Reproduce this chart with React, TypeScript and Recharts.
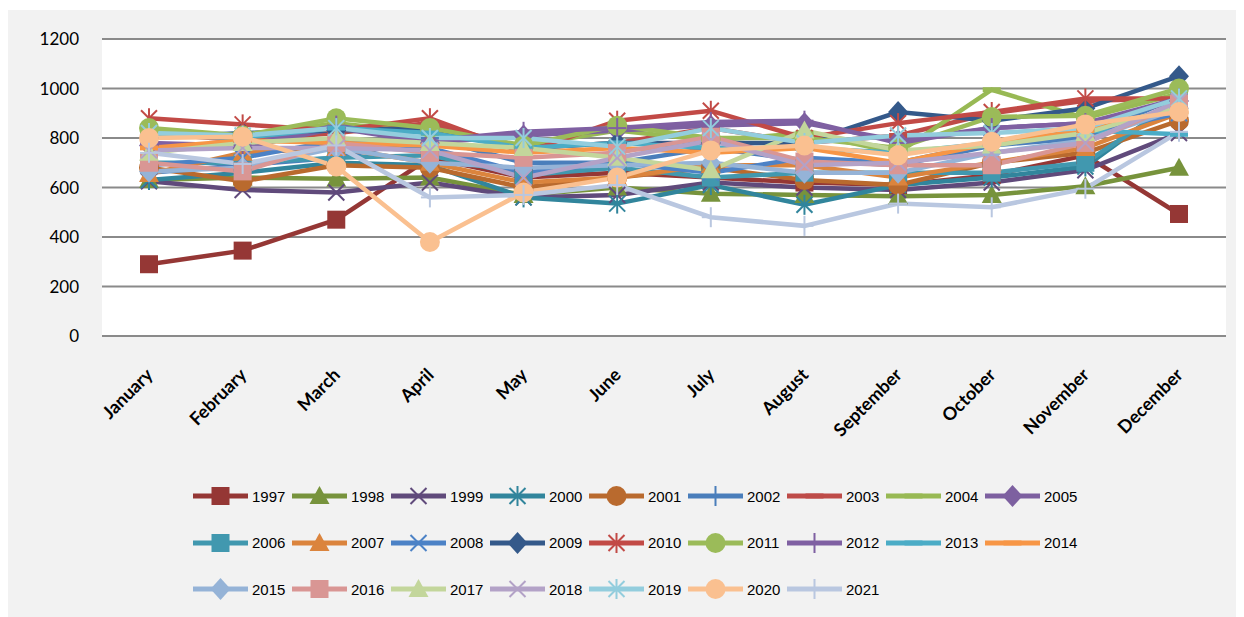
import React from 'react';
import { LineChart, Line, XAxis, YAxis, CartesianGrid } from 'recharts';

const months = ['January', 'February', 'March', 'April', 'May', 'June', 'July', 'August', 'September', 'October', 'November', 'December'];
const yTicks = [0, 200, 400, 600, 800, 1000, 1200];

// one array per year, Jan..Dec
const y1997 = [290, 345, 470, 720, 640, 660, 640, 620, 610, 650, 730, 493];
const y1998 = [630, 640, 635, 640, 570, 600, 575, 570, 565, 570, 605, 680];
const y1999 = [625, 590, 580, 620, 560, 570, 620, 600, 590, 620, 670, 820];
const y2000 = [630, 660, 700, 690, 560, 535, 610, 530, 610, 640, 685, 960];
const y2001 = [680, 625, 690, 680, 600, 640, 680, 630, 610, 700, 740, 870];
const y2002 = [660, 690, 720, 800, 700, 700, 760, 710, 690, 770, 800, 970];
const y2003 = [820, 790, 820, 860, 760, 780, 840, 780, 810, 900, 950, 960];
const y2004 = [830, 810, 860, 820, 770, 830, 790, 820, 740, 995, 880, 980];
const y2005 = [770, 760, 840, 780, 810, 830, 850, 860, 790, 840, 860, 950];
const y2006 = [700, 700, 720, 730, 650, 680, 640, 660, 660, 660, 700, 950];
const y2007 = [655, 740, 760, 700, 620, 640, 690, 690, 640, 700, 760, 900];
const y2008 = [690, 720, 790, 760, 660, 700, 660, 720, 700, 780, 820, 900];
const y2009 = [800, 820, 830, 840, 760, 780, 780, 780, 905, 870, 920, 1050];
const y2010 = [880, 855, 830, 880, 740, 870, 910, 800, 860, 905, 960, 960];
const y2011 = [840, 810, 880, 840, 770, 850, 800, 800, 760, 885, 890, 1000];
const y2012 = [780, 770, 850, 790, 825, 840, 865, 870, 780, 840, 860, 960];
const y2013 = [810, 800, 840, 820, 760, 780, 760, 760, 740, 780, 830, 815];
const y2014 = [760, 790, 780, 770, 740, 760, 740, 760, 700, 780, 830, 920];
const y2015 = [665, 680, 760, 700, 680, 690, 700, 660, 660, 740, 790, 920];
const y2016 = [700, 665, 780, 740, 720, 740, 805, 705, 690, 690, 780, 940];
const y2017 = [740, 780, 800, 780, 760, 720, 670, 830, 750, 770, 820, 930];
const y2018 = [750, 760, 760, 750, 640, 720, 790, 690, 700, 740, 780, 950];
const y2019 = [820, 810, 840, 800, 800, 765, 840, 780, 810, 820, 840, 960];
const y2020 = [800, 805, 685, 380, 580, 640, 750, 770, 730, 785, 855, 905];
const y2021 = [740, 695, 770, 560, 570, 610, 480, 445, 535, 520, 595, 825];

const years = ['1997', '1998', '1999', '2000', '2001', '2002', '2003', '2004', '2005', '2006', '2007', '2008', '2009',
  '2010', '2011', '2012', '2013', '2014', '2015', '2016', '2017', '2018', '2019', '2020', '2021'];
const yearValues = [y1997, y1998, y1999, y2000, y2001, y2002, y2003, y2004, y2005, y2006, y2007, y2008, y2009,
  y2010, y2011, y2012, y2013, y2014, y2015, y2016, y2017, y2018, y2019, y2020, y2021];
const colors = ['#953735', '#77933C', '#604A7B', '#31859C', '#B96A2E', '#4A7EBB', '#BE4B48', '#98B954', '#7D60A0',
  '#4198AF', '#DB843D', '#4C82C6', '#34598A', '#C24A46', '#9BBB59', '#7F60A2', '#4BACC6', '#F79646',
  '#95B3D7', '#D99694', '#C3D69B', '#B3A2C7', '#93CDDD', '#FAC090', '#B9C7E0'];
const markers = ['square', 'triangle', 'x', 'star', 'circle', 'plus', 'dash', 'dash', 'diamond',
  'square', 'triangle', 'x', 'diamond', 'star', 'circle', 'plus', 'dash', 'dash',
  'diamond', 'square', 'triangle', 'x', 'star', 'circle', 'plus'];

const data = months.map((m, i) => {
  const row: Record<string, string | number> = { month: m };
  years.forEach((y, j) => { row[y] = yearValues[j][i]; });
  return row;
});

const Marker = ({ shape, cx, cy, color }: { shape: string; cx: number; cy: number; color: string }) => {
  const h = 9;
  switch (shape) {
    case 'square':
      return <rect x={cx - h} y={cy - h} width={h * 2} height={h * 2} fill={color} />;
    case 'triangle':
      return <polygon points={`${cx},${cy - 10} ${cx + 10},${cy + 8} ${cx - 10},${cy + 8}`} fill={color} />;
    case 'x':
      return (
        <g stroke={color} strokeWidth={2}>
          <line x1={cx - 8} y1={cy - 8} x2={cx + 8} y2={cy + 8} />
          <line x1={cx - 8} y1={cy + 8} x2={cx + 8} y2={cy - 8} />
        </g>
      );
    case 'star':
      return (
        <g stroke={color} strokeWidth={2}>
          <line x1={cx - 8} y1={cy - 8} x2={cx + 8} y2={cy + 8} />
          <line x1={cx - 8} y1={cy + 8} x2={cx + 8} y2={cy - 8} />
          <line x1={cx} y1={cy - 10} x2={cx} y2={cy + 10} />
        </g>
      );
    case 'circle':
      return <circle cx={cx} cy={cy} r={10} fill={color} />;
    case 'plus':
      return (
        <g stroke={color} strokeWidth={2}>
          <line x1={cx} y1={cy - 10} x2={cx} y2={cy + 10} />
          <line x1={cx - 9} y1={cy} x2={cx + 9} y2={cy} />
        </g>
      );
    case 'dash':
      return <rect x={cx - 9} y={cy - 2.5} width={18} height={5} fill={color} />;
    default:
      return <polygon points={`${cx},${cy - 11} ${cx + 10},${cy} ${cx},${cy + 11} ${cx - 10},${cy}`} fill={color} />;
  }
};

const XTick = (props: any) => {
  const { x, y, payload } = props;
  const ax = x + 5;
  const ay = y + 32;
  return (
    <text x={ax} y={ay} transform={`rotate(-45, ${ax}, ${ay})`} textAnchor="end"
      fontFamily="Lato, 'Open Sans', sans-serif" fontWeight="bold" fontSize={18} fill="#000">
      {payload.value}
    </text>
  );
};

const App = () => {
  return (
    <div style={{ position: 'relative', width: 1237, height: 607, background: '#f2f2f2', marginLeft: -1, marginTop: 2 }}>
      <LineChart width={1237} height={460} data={data} margin={{ top: 29, right: 18, left: 0, bottom: 74 }}>
        <CartesianGrid vertical={false} stroke="#8a8a8a" strokeWidth={2} fill="#ffffff" />
        <XAxis dataKey="month" height={60} axisLine={{ stroke: '#8a8a8a', strokeWidth: 2 }} tickLine={false}
          tick={<XTick />} interval={0} padding={{ left: 47, right: 47 }} />
        <YAxis domain={[0, 1200]} ticks={yTicks} width={95} axisLine={false} tickLine={false}
          tick={{ fill: '#000', fontSize: 17, fontFamily: "Lato, 'Open Sans', sans-serif", dx: -15 }} />
        {years.map((y, j) => {
          const shape = markers[j];
          return (
            <Line key={y} dataKey={y} stroke={colors[j]} strokeWidth={4.5} isAnimationActive={false}
              dot={(p: any) => (
                <g key={`${y}-${p.index}`}>
                  <Marker shape={shape} cx={p.cx} cy={p.cy} color={colors[j]} />
                </g>
              )}
              activeDot={false} />
          );
        })}
      </LineChart>
      {[0, 1, 2].map(r => (
        <div key={r} style={{ position: 'absolute', left: 186, top: 476 + r * 46.5, display: 'flex' }}>
          {years.slice(r * 9, r * 9 + 9).map((y, k) => {
            const j = r * 9 + k;
            return (
              <div key={y} style={{ width: 99, display: 'flex', alignItems: 'center', height: 20 }}>
                <svg width={55} height={22} style={{ overflow: 'visible' }}>
                  <line x1={0} y1={11} x2={55} y2={11} stroke={colors[j]} strokeWidth={5} />
                  <Marker shape={markers[j]} cx={27.5} cy={11} color={colors[j]} />
                </svg>
                <span style={{ marginLeft: 4, fontSize: 15, fontFamily: "'Liberation Sans Narrow', 'Liberation Sans', Arial, sans-serif", color: '#000' }}>{y}</span>
              </div>
            );
          })}
        </div>
      ))}
    </div>
  );
};

export default App;
